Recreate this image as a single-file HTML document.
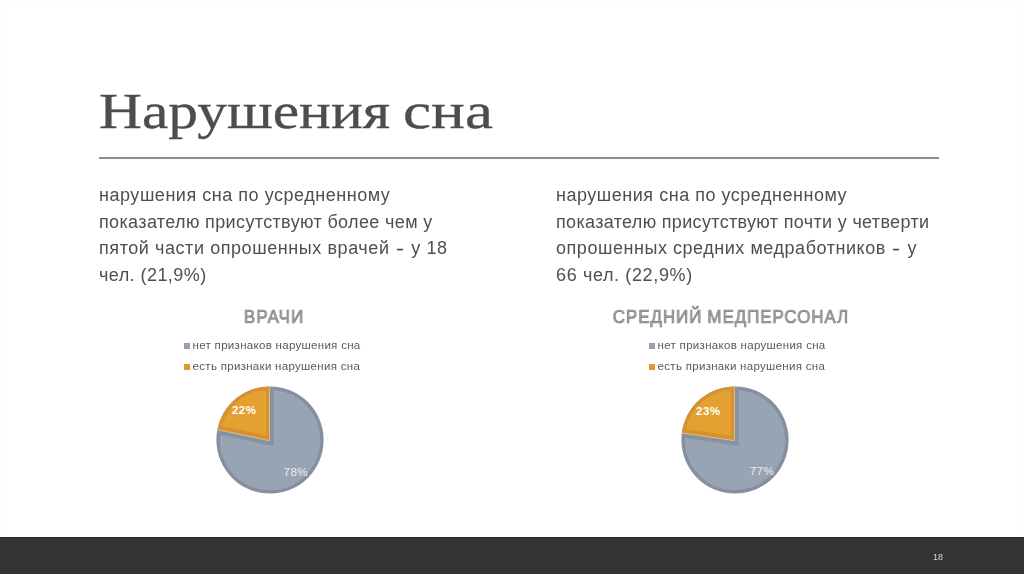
<!DOCTYPE html>
<html lang="ru">
<head>
<meta charset="utf-8">
<title>Нарушения сна</title>
<style>
html,body{margin:0;padding:0;}
body{width:1024px;height:574px;position:relative;overflow:hidden;background:#fff;font-family:"Liberation Sans",sans-serif;}
#frame{position:absolute;left:0;top:0;width:1020px;height:537px;border:2px solid #fdfdfd;border-bottom:none;}
#title{position:absolute;left:0;top:81px;margin:0;width:700px;height:60px;font-family:"Liberation Serif",serif;font-weight:normal;font-size:51.5px;line-height:60px;color:#4d4d4d;-webkit-text-stroke:0.3px #4d4d4d;white-space:nowrap;}
#title span{position:absolute;top:0;transform-origin:0 0;}
#tw1{left:99.3px;transform:scaleX(1.154);}
#tw2{left:402.8px;transform:scaleX(1.228);}
#rule{position:absolute;left:99px;top:157px;width:840px;height:2px;background:#8c8c8c;}
.para{position:absolute;top:182px;margin:0;font-size:18px;line-height:26.67px;color:#4f4f4f;white-space:nowrap;}
.para span{display:block;}
.para i.d{font-style:normal;display:inline-block;transform:scaleX(.6);-webkit-text-stroke:0.3px #4f4f4f;}
.para,.leg,.ctitle,#pn{will-change:transform;}
#title{will-change:transform;}
#p1{left:98.5px;}
#p2{left:555.5px;}
.ctitle{position:absolute;top:305.5px;width:400px;text-align:center;font-size:18.4px;line-height:22px;font-weight:normal;color:#a4a4a4;white-space:nowrap;-webkit-text-stroke:0.7px #7c7c7c;transform:scaleX(.92);}
#ct1{left:73.5px;letter-spacing:1.2px;}
#ct2{left:531.2px;letter-spacing:1.03px;word-spacing:-0.6px;}
.leg{position:absolute;font-size:11.5px;line-height:14px;color:#595959;white-space:nowrap;}
.leg i{position:absolute;left:0;top:5px;width:6px;height:6px;}
.leg b{font-weight:normal;position:absolute;left:8.6px;top:0;letter-spacing:.3px;}
.g{background:#95a1b0;}
.o{background:#e09b2c;}
.pie{position:absolute;}
.pl{font-family:"Liberation Sans",sans-serif;font-size:11.5px;font-weight:bold;fill:#fff;letter-spacing:.6px;}
.pl2{font-family:"Liberation Sans",sans-serif;font-size:11.7px;fill:#e9edf1;letter-spacing:.4px;}
#footer{position:absolute;left:0;top:537px;width:1024px;height:37px;background:#333;border-top:1px solid #2a2a2a;box-sizing:border-box;}
#pn{position:absolute;left:932.6px;top:552px;font-size:9px;line-height:10px;color:#d4d4d4;}
</style>
</head>
<body>
<div id="frame"></div>
<h1 id="title"><span id="tw1">Нарушения</span> <span id="tw2">сна</span></h1>
<div id="rule"></div>
<p class="para" id="p1"><span style="letter-spacing:.53px">нарушения сна по усредненному</span><span style="letter-spacing:.36px">показателю присутствуют более чем у</span><span style="letter-spacing:.57px">пятой части опрошенных врачей <i class="d">–</i> у 18</span><span style="letter-spacing:.44px">чел. (21,9%)</span></p>
<p class="para" id="p2"><span style="letter-spacing:.52px">нарушения сна по усредненному</span><span style="letter-spacing:.33px">показателю присутствуют почти у четверти</span><span style="letter-spacing:.54px">опрошенных средних медработников <i class="d">–</i> у</span><span style="letter-spacing:.63px">66 чел. (22,9%)</span></p>

<div class="ctitle" id="ct1">ВРАЧИ</div>
<div class="leg" style="left:183.5px;top:338px;"><i class="g"></i><b>нет признаков нарушения сна</b></div>
<div class="leg" style="left:183.5px;top:359px;"><i class="o"></i><b>есть признаки нарушения сна</b></div>
<svg class="pie" style="left:209.7px;top:380.3px;" width="120" height="120" viewBox="0 0 120 120">
  <defs>
    <filter id="bl" x="-10%" y="-10%" width="120%" height="120%"><feGaussianBlur stdDeviation="0.7"/></filter>
    <clipPath id="c1"><circle cx="60" cy="60" r="53.6"/></clipPath>
    <clipPath id="s1"><path d="M59.4 60.6 L59.4 6.4 A53.6 53.6 0 0 0 7.4 49.6 Z"/></clipPath>
  </defs>
  <g clip-path="url(#c1)"><g filter="url(#bl)">
    <circle cx="60" cy="60" r="53.6" fill="#98a4b3" stroke="#8490a0" stroke-width="7"/>
    <path d="M59.4 60.6 L59.4 6.4 A53.6 53.6 0 0 0 7.4 49.6 Z" fill="none" stroke="#8792a2" stroke-width="9" stroke-linejoin="miter"/>
  </g></g>
  <g clip-path="url(#s1)"><g filter="url(#bl)">
    <path d="M59.4 60.6 L59.4 6.4 A53.6 53.6 0 0 0 7.4 49.6 Z" fill="#e5a030" stroke="#d6922b" stroke-width="6.5"/>
    <path d="M59.4 60.6 L7.4 49.6" fill="none" stroke="#d6922b" stroke-width="9"/>
  </g></g>
  <path d="M59.4 6.4 L59.4 60.6 L7.4 49.6" fill="none" stroke="#ecc98f" stroke-width="0.8"/>
  <text class="pl" x="34.3" y="34.2" text-anchor="middle">22%</text>
  <text class="pl2" x="85.8" y="95.8" text-anchor="middle">78%</text>
</svg>

<div class="ctitle" id="ct2">СРЕДНИЙ МЕДПЕРСОНАЛ</div>
<div class="leg" style="left:648.8px;top:338px;"><i class="g"></i><b>нет признаков нарушения сна</b></div>
<div class="leg" style="left:648.8px;top:359px;"><i class="o"></i><b>есть признаки нарушения сна</b></div>
<svg class="pie" style="left:674.7px;top:380.3px;" width="120" height="120" viewBox="0 0 120 120">
  <defs>
    <clipPath id="c2"><circle cx="60" cy="60" r="53.6"/></clipPath>
    <clipPath id="s2"><path d="M59.4 60.6 L59.4 6.4 A53.6 53.6 0 0 0 6.9 52.9 Z"/></clipPath>
  </defs>
  <g clip-path="url(#c2)"><g filter="url(#bl)">
    <circle cx="60" cy="60" r="53.6" fill="#98a4b3" stroke="#8490a0" stroke-width="7"/>
    <path d="M59.4 60.6 L59.4 6.4 A53.6 53.6 0 0 0 6.9 52.9 Z" fill="none" stroke="#8792a2" stroke-width="9" stroke-linejoin="miter"/>
  </g></g>
  <g clip-path="url(#s2)"><g filter="url(#bl)">
    <path d="M59.4 60.6 L59.4 6.4 A53.6 53.6 0 0 0 6.9 52.9 Z" fill="#e5a030" stroke="#d6922b" stroke-width="6.5"/>
    <path d="M59.4 60.6 L6.9 52.9" fill="none" stroke="#d6922b" stroke-width="9"/>
  </g></g>
  <path d="M59.4 6.4 L59.4 60.6 L6.9 52.9" fill="none" stroke="#ecc98f" stroke-width="0.8"/>
  <text class="pl" x="33.5" y="35" text-anchor="middle">23%</text>
  <text class="pl2" x="87" y="95.3" text-anchor="middle">77%</text>
</svg>

<div id="footer"></div>
<div id="pn">18</div>
</body>
</html>
